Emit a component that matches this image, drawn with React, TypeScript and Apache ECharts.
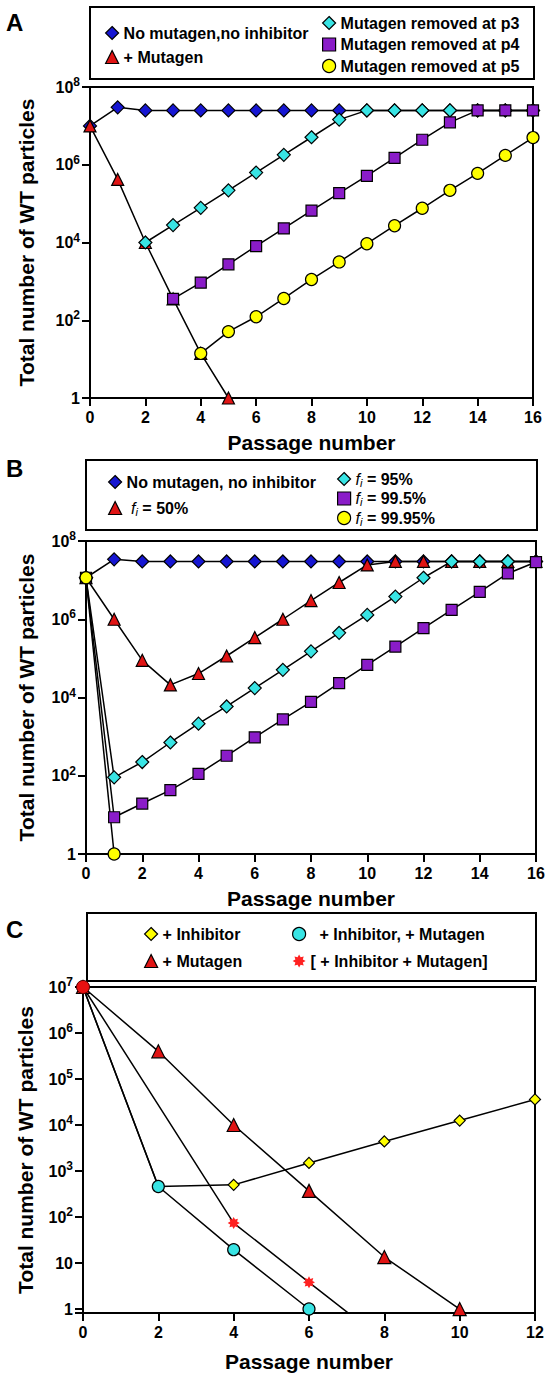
import React, { useEffect, useRef } from 'react';
import * as echarts from 'echarts';

const FONT = "'Liberation Sans', Arial, Helvetica, sans-serif";

// ---------- Panel A ----------
const passagesA = [0, 1, 2, 3, 4, 5, 6, 7, 8, 9, 10, 11, 12, 13, 14, 15, 16];
const noMutagenA = [1e7, 3e7, 2.5e7, 2.5e7, 2.5e7, 2.5e7, 2.5e7, 2.5e7, 2.5e7, 2.5e7, 2.5e7, 2.5e7, 2.5e7, 2.5e7, 2.5e7, 2.5e7, 2.5e7];
const mutagenPassagesA = [0, 1, 2, 3, 4, 5];
const mutagenA = [1e7, 4.2e5, 1e4, 355, 14, 1];
const removedP3PassagesA = [2, 3, 4, 5, 6, 7, 8, 9, 10, 11, 12, 13, 14, 15, 16];
const removedP3A = [1e4, 2.8e4, 7.8e4, 2.2e5, 6.3e5, 1.8e6, 5.1e6, 1.45e7, 2.5e7, 2.5e7, 2.5e7, 2.5e7, 2.5e7, 2.5e7, 2.5e7];
const removedP4PassagesA = [3, 4, 5, 6, 7, 8, 9, 10, 11, 12, 13, 14, 15, 16];
const removedP4A = [355, 930, 2750, 8100, 2.3e4, 6.6e4, 1.86e5, 5.2e5, 1.5e6, 4.4e6, 1.23e7, 2.5e7, 2.5e7, 2.5e7];
const removedP5PassagesA = [4, 5, 6, 7, 8, 9, 10, 11, 12, 13, 14, 15, 16];
const removedP5A = [14, 51, 123, 363, 1120, 3160, 9300, 2.7e4, 7.6e4, 2.2e5, 6e5, 1.74e6, 5e6];

// ---------- Panel B ----------
const passagesB = [0, 1, 2, 3, 4, 5, 6, 7, 8, 9, 10, 11, 12, 13, 14, 15, 16];
const noMutagenB = [1.15e7, 3.4e7, 3e7, 3e7, 3e7, 3e7, 3e7, 3e7, 3e7, 3e7, 3e7, 3e7, 3e7, 3e7, 3e7, 3e7, 3e7];
const fi50B = [1.15e7, 1e6, 8.9e4, 2.1e4, 4.1e4, 1.15e5, 3.4e5, 1e6, 3e6, 8.7e6, 2.45e7, 3e7, 3e7, 3e7, 3e7, 3e7, 3e7];
const fi95B = [1.15e7, 91, 224, 708, 2140, 5900, 1.74e4, 5.1e4, 1.51e5, 4.5e5, 1.29e6, 3.8e6, 1.15e7, 3e7, 3e7, 3e7, 3e7];
const fi995B = [1.15e7, 8.7, 19.5, 43, 112, 324, 955, 2750, 7760, 2.34e4, 6.8e4, 2e5, 5.9e5, 1.74e6, 5e6, 1.48e7, 2.9e7];
const fi9995PassagesB = [0, 1];
const fi9995B = [1.15e7, 1];

// ---------- Panel C ----------
const inhibitorPassagesC = [0, 2, 4, 6, 8, 10, 12];
const inhibitorC = [1e7, 460, 500, 1500, 4400, 1.25e4, 3.6e4];
const mutagenPassagesC = [0, 2, 4, 6, 8, 10];
const mutagenC = [1e7, 4e5, 1e4, 370, 13.5, 1];
const inhMutPassagesC = [0, 2, 4, 6];
const inhMutC = [1e7, 460, 19.5, 1];
const inhMutBracketPassagesC = [0, 4, 6, 8];
const inhMutBracketC = [1e7, 74, 3.8, 0.2];

// ---------- styles ----------
const BLUE = '#1616d2';
const RED = '#e01414';
const CYAN = '#38e4e4';
const PURPLE = '#8a1cc8';
const YELLOW = '#ffff00';
const STAR_RED = '#ff2222';

const starPts = Array.from({ length: 16 }, (_, k) => {
  const a = (k * Math.PI) / 8 - Math.PI / 2;
  const r = k % 2 === 0 ? 10 : 6.2;
  return `${(10 + r * Math.cos(a)).toFixed(2)},${(10 + r * Math.sin(a)).toFixed(2)}`;
});
const ASTERISK = 'path://M' + starPts.join('L') + 'Z';

const TICK_RICH = {
  b: { fontSize: 16, fontWeight: 'bold', color: '#000', fontFamily: FONT, lineHeight: 22 },
  s: { fontSize: 12, fontWeight: 'bold', color: '#000', fontFamily: FONT, lineHeight: 12, verticalAlign: 'top' },
};

const powLabel = (v: number) => {
  const e = Math.log10(v);
  const r = Math.round(e);
  if (Math.abs(e - r) > 1e-6) return '';
  if (r === 0) return '{b|1}';
  if (r === 1) return '{b|10}';
  return `{b|10}{s|${r}}`;
};

const pts = (xs: number[], ys: number[]) => xs.map((x, i) => [x, ys[i]]);

const lineSeries = (
  name: string,
  idx: number,
  xs: number[],
  ys: number[],
  symbol: string,
  symbolSize: number,
  color: string,
  data?: any[],
) => ({
  type: 'line',
  name,
  xAxisIndex: idx,
  yAxisIndex: idx,
  data: data ?? pts(xs, ys),
  symbol,
  symbolSize,
  showSymbol: true,
  showAllSymbol: true,
  lineStyle: { color: '#000', width: 1.5 },
  itemStyle: { color, borderColor: '#000', borderWidth: 1.2 },
  emphasis: { disabled: true },
  animation: false,
});

const xAxis = (gridIndex: number, max: number, nameGap: number) => ({
  type: 'value',
  gridIndex,
  min: 0,
  max,
  interval: 2,
  name: 'Passage number',
  nameLocation: 'middle',
  nameGap,
  nameTextStyle: { fontSize: 21, fontWeight: 'bold', color: '#000', fontFamily: FONT },
  axisLine: { show: true, onZero: false, lineStyle: { color: '#000', width: 2 } },
  axisTick: { show: true, length: 8, lineStyle: { color: '#000', width: 2 } },
  axisLabel: { margin: 11, fontSize: 16, fontWeight: 'bold', color: '#000', fontFamily: FONT },
  splitLine: { show: false },
});

const yAxis = (gridIndex: number, min: number, max: number, interval: number | undefined, nameGap: number) => ({
  type: 'log',
  logBase: 10,
  gridIndex,
  min,
  max,
  ...(interval ? { interval } : {}),
  name: 'Total number of WT particles',
  nameLocation: 'middle',
  nameRotate: 90,
  nameGap,
  nameTextStyle: { fontSize: 21, fontWeight: 'bold', color: '#000', fontFamily: FONT },
  axisLine: { show: true, onZero: false, lineStyle: { color: '#000', width: 2 } },
  axisTick: { show: true, length: 8, lineStyle: { color: '#000', width: 2 } },
  axisLabel: { margin: 10, formatter: powLabel, rich: TICK_RICH, color: '#000' },
  splitLine: { show: false },
  minorTick: { show: false },
});

const LEG_RICH = {
  f: { fontStyle: 'italic', fontWeight: 'normal', fontSize: 16, fontFamily: FONT, color: '#000', lineHeight: 18 },
  i: { fontStyle: 'italic', fontWeight: 'normal', fontSize: 11, fontFamily: FONT, color: '#000', lineHeight: 12, verticalAlign: 'bottom' },
  t: { fontWeight: 'bold', fontSize: 16, fontFamily: FONT, color: '#000', lineHeight: 18 },
};

const legend = (
  left: number,
  top: number,
  itemGap: number,
  itemTextGap: number,
  items: any[],
  lineHeight = 18,
  formatter?: (n: string) => string,
) => ({
  show: true,
  orient: 'vertical',
  left,
  top,
  padding: 0,
  itemGap,
  itemTextGap,
  itemWidth: 13,
  itemHeight: 13,
  selectedMode: false,
  itemStyle: { borderColor: '#000', borderWidth: 1.2 },
  textStyle: { fontSize: 16, fontWeight: 'bold', color: '#000', fontFamily: FONT, lineHeight, rich: LEG_RICH },
  data: items,
  ...(formatter ? { formatter } : {}),
});

const fiLabel = (prefix: string) => (name: string) =>
  name.startsWith('fi') ? `${prefix}{f|f}{i|i}{t|${name.slice(2)}}` : name;

const boxStyle = { fill: 'none', stroke: '#000', lineWidth: 2 };
const letterStyle = { fontSize: 24, fontWeight: 'bold', color: '#000', fontFamily: FONT };

const option = {
  animation: false,
  backgroundColor: '#fff',
  title: [
    { text: 'A', left: 6, top: 10, padding: 0, textStyle: letterStyle },
    { text: 'B', left: 6, top: 456, padding: 0, textStyle: letterStyle },
    { text: 'C', left: 6, top: 917, padding: 0, textStyle: letterStyle },
  ],
  graphic: [
    { type: 'rect', silent: true, shape: { x: 90, y: 7, width: 444, height: 72 }, style: boxStyle },
    { type: 'rect', silent: true, shape: { x: 86, y: 460, width: 451, height: 70 }, style: boxStyle },
    { type: 'rect', silent: true, shape: { x: 87, y: 913, width: 449, height: 68 }, style: boxStyle },
  ],
  legend: [
    legend(105, 24, 6, 4, [
      { name: 'No mutagen,no inhibitor', icon: 'diamond' },
      { name: '+ Mutagen', icon: 'triangle' },
    ]),
    legend(322, 14, 3.5, 5, [
      { name: 'Mutagen removed at p3', icon: 'diamond' },
      { name: 'Mutagen removed at p4', icon: 'rect' },
      { name: 'Mutagen removed at p5', icon: 'circle' },
    ]),
    legend(
      108,
      473,
      8,
      5,
      [
        { name: 'No mutagen, no inhibitor', icon: 'diamond' },
        { name: 'fi = 50%', icon: 'triangle' },
      ],
      18,
      fiLabel(' '),
    ),
    legend(
      337,
      470,
      1.5,
      20,
      [
        { name: 'fi = 95%', icon: 'diamond' },
        { name: 'fi = 99.5%', icon: 'rect' },
        { name: 'fi = 99.95%', icon: 'circle' },
      ],
      17,
      fiLabel(''),
    ),
    legend(144, 925, 9, 16, [
      { name: '+ Inhibitor', icon: 'diamond' },
      { name: '+ Mutagen', icon: 'triangle' },
    ]),
    legend(
      292,
      925,
      9,
      11,
      [
        { name: '+ Inhibitor, + Mutagen', icon: 'circle' },
        { name: '[ + Inhibitor + Mutagen]', icon: ASTERISK, itemStyle: { borderWidth: 0, color: STAR_RED } },
      ],
      18,
      (n: string) => (n === '+ Inhibitor, + Mutagen' ? '  ' + n : n),
    ),
  ],
  grid: [
    { left: 90, top: 87, width: 443, height: 311, show: true, borderColor: '#000', borderWidth: 2, backgroundColor: 'transparent' },
    { left: 86, top: 541, width: 450, height: 313, show: true, borderColor: '#000', borderWidth: 2, backgroundColor: 'transparent' },
    { left: 83, top: 987, width: 452, height: 326, show: true, borderColor: '#000', borderWidth: 2, backgroundColor: 'transparent' },
  ],
  xAxis: [xAxis(0, 16, 34), xAxis(1, 16, 34), xAxis(2, 12, 38)],
  yAxis: [yAxis(0, 1, 1e8, 2, 53), yAxis(1, 1, 1e8, 2, 49), yAxis(2, 0.82, 1e7, undefined, 47)],
  series: [
    // A
    lineSeries('No mutagen,no inhibitor', 0, passagesA, noMutagenA, 'diamond', 13, BLUE),
    lineSeries('+ Mutagen', 0, mutagenPassagesA, mutagenA, 'triangle', 12, RED),
    lineSeries('Mutagen removed at p3', 0, removedP3PassagesA, removedP3A, 'diamond', 13, CYAN),
    lineSeries('Mutagen removed at p4', 0, removedP4PassagesA, removedP4A, 'rect', 11, PURPLE),
    lineSeries('Mutagen removed at p5', 0, removedP5PassagesA, removedP5A, 'circle', 12, YELLOW),
    // B
    lineSeries('No mutagen, no inhibitor', 1, passagesB, noMutagenB, 'diamond', 13, BLUE),
    lineSeries('fi = 50%', 1, passagesB, fi50B, 'triangle', 12, RED),
    lineSeries('fi = 95%', 1, passagesB, fi95B, 'diamond', 13, CYAN),
    lineSeries('fi = 99.5%', 1, passagesB, fi995B, 'rect', 11, PURPLE),
    lineSeries('fi = 99.95%', 1, fi9995PassagesB, fi9995B, 'circle', 12, YELLOW),
    // C
    lineSeries('+ Inhibitor', 2, inhibitorPassagesC, inhibitorC, 'diamond', 11, YELLOW),
    lineSeries('+ Mutagen', 2, mutagenPassagesC, mutagenC, 'triangle', 13, RED),
    lineSeries('+ Inhibitor, + Mutagen', 2, inhMutPassagesC, inhMutC, 'circle', 12, CYAN),
    lineSeries(
      '[ + Inhibitor + Mutagen]',
      2,
      inhMutBracketPassagesC,
      inhMutBracketC,
      ASTERISK,
      12,
      STAR_RED,
      inhMutBracketPassagesC.map((x, i) =>
        i === 0
          ? { value: [x, inhMutBracketC[i]], symbol: 'circle', symbolSize: 13, itemStyle: { color: '#e81010', borderColor: '#5a0000', borderWidth: 1 } }
          : { value: [x, inhMutBracketC[i]], itemStyle: { color: STAR_RED, borderWidth: 0 } },
      ),
    ),
  ],
};

export default function App() {
  const ref = useRef<HTMLDivElement>(null);
  useEffect(() => {
    if (!ref.current) return;
    const chart = echarts.init(ref.current, null, { renderer: 'svg' });
    chart.setOption(option as any);
    return () => chart.dispose();
  }, []);
  return (
    <div
      ref={ref}
      style={{ position: 'absolute', left: 0, top: 0, width: 553, height: 1381, background: '#fff' }}
    />
  );
}
